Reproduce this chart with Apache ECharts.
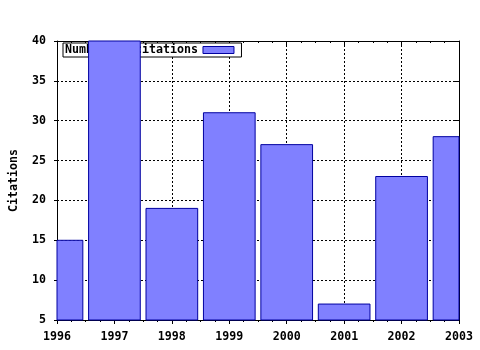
<!DOCTYPE html>
<html>
<head>
<meta charset="utf-8">
<script src="https://cdn.jsdelivr.net/npm/echarts@6/dist/echarts.min.js"></script>
<style>html,body{margin:0;padding:0;background:#fff}#c{width:480px;height:350px}</style>
</head>
<body>
<div id="c"></div>
<script>
var years = [1996, 1997, 1998, 1999, 2000, 2001, 2002, 2003];
var citations = [15, 40, 19, 31, 27, 7, 23, 28];
var seriesName = 'Number of citations';
var yAxisName = 'Citations';

var font = 'DejaVu Sans Mono';
var fs = 11.63;
var barFill = '#8080ff', barEdge = '#0000a0';
var chart = echarts.init(document.getElementById('c'), null, {renderer: 'canvas'});
var dashed = {show: true, lineStyle: {color: '#000', type: [2, 2], width: 1}};
chart.setOption({
  animation: false,
  backgroundColor: '#fff',
  grid: {left: 57, right: 21, top: 41, bottom: 30, containLabel: false, outerBoundsMode: 'none'},
  legend: {
    data: [{name: seriesName, icon: 'rect', itemStyle: {color: barFill, borderColor: barEdge, borderWidth: 1}}],
    left: 63, top: 43, z: 1, align: 'right',
    backgroundColor: '#fff', borderColor: '#000', borderWidth: 1,
    padding: [1, 7, 1, 2], itemWidth: 31, itemHeight: 7,
    textStyle: {fontFamily: font, fontWeight: 'bold', fontSize: fs, color: '#000', lineHeight: 12}
  },
  xAxis: [{
    type: 'value', min: 1996, max: 2003, interval: 1, position: 'bottom',
    axisLine: {show: true, lineStyle: {color: '#000', width: 1}},
    axisTick: {show: true, length: 4, lineStyle: {color: '#000'}},
    minorTick: {show: true, splitNumber: 4, length: 2, lineStyle: {color: '#000'}},
    splitLine: dashed,
    axisLabel: {fontFamily: font, fontWeight: 'bold', fontSize: fs, color: '#000', margin: 11, formatter: function(v){return String(v);}}
  }, {
    type: 'value', min: 1996, max: 2003, interval: 1, position: 'top',
    axisLine: {show: true, lineStyle: {color: '#000', width: 1}},
    axisTick: {show: true, inside: true, length: 4, lineStyle: {color: '#000'}},
    minorTick: {show: true, splitNumber: 4, length: 2, lineStyle: {color: '#000'}},
    splitLine: {show: false}, axisLabel: {show: false}
  }],
  yAxis: [{
    type: 'value', min: 5, max: 40, interval: 5, position: 'left',
    name: yAxisName, nameLocation: 'middle', nameGap: 37, nameRotate: 90,
    nameTextStyle: {fontFamily: font, fontWeight: 'bold', fontSize: fs, color: '#000'},
    axisLine: {show: true, lineStyle: {color: '#000', width: 1}},
    axisTick: {show: true, length: 3, lineStyle: {color: '#000'}},
    splitLine: dashed,
    axisLabel: {fontFamily: font, fontWeight: 'bold', fontSize: fs, color: '#000', margin: 11}
  }, {
    type: 'value', min: 5, max: 40, interval: 5, position: 'right',
    axisLine: {show: true, lineStyle: {color: '#000', width: 1}},
    axisTick: {show: true, inside: true, length: 4, lineStyle: {color: '#000'}},
    splitLine: {show: false}, axisLabel: {show: false}
  }],
  series: [{
    name: seriesName, type: 'custom', z: 2, xAxisIndex: 0, yAxisIndex: 0,
    itemStyle: {color: barFill, borderColor: barEdge},
    encode: {x: 0, y: 1},
    renderItem: function(params, api) {
      var x = api.value(0), y = api.value(1);
      var p0 = api.coord([x - 0.45, y]);
      var p1 = api.coord([x + 0.45, 5]);
      var cs = params.coordSys;
      var rect = echarts.graphic.clipRectByRect(
        {x: p0[0], y: p0[1], width: p1[0] - p0[0], height: p1[1] - p0[1]},
        {x: cs.x, y: cs.y, width: cs.width, height: cs.height}
      );
      if (!rect) return;
      return {type: 'rect', shape: rect,
        style: {fill: barFill, stroke: barEdge, lineWidth: 1}};
    },
    data: years.map(function(y, i){ return [y, citations[i]]; })
  }]
});
</script>
</body>
</html>
